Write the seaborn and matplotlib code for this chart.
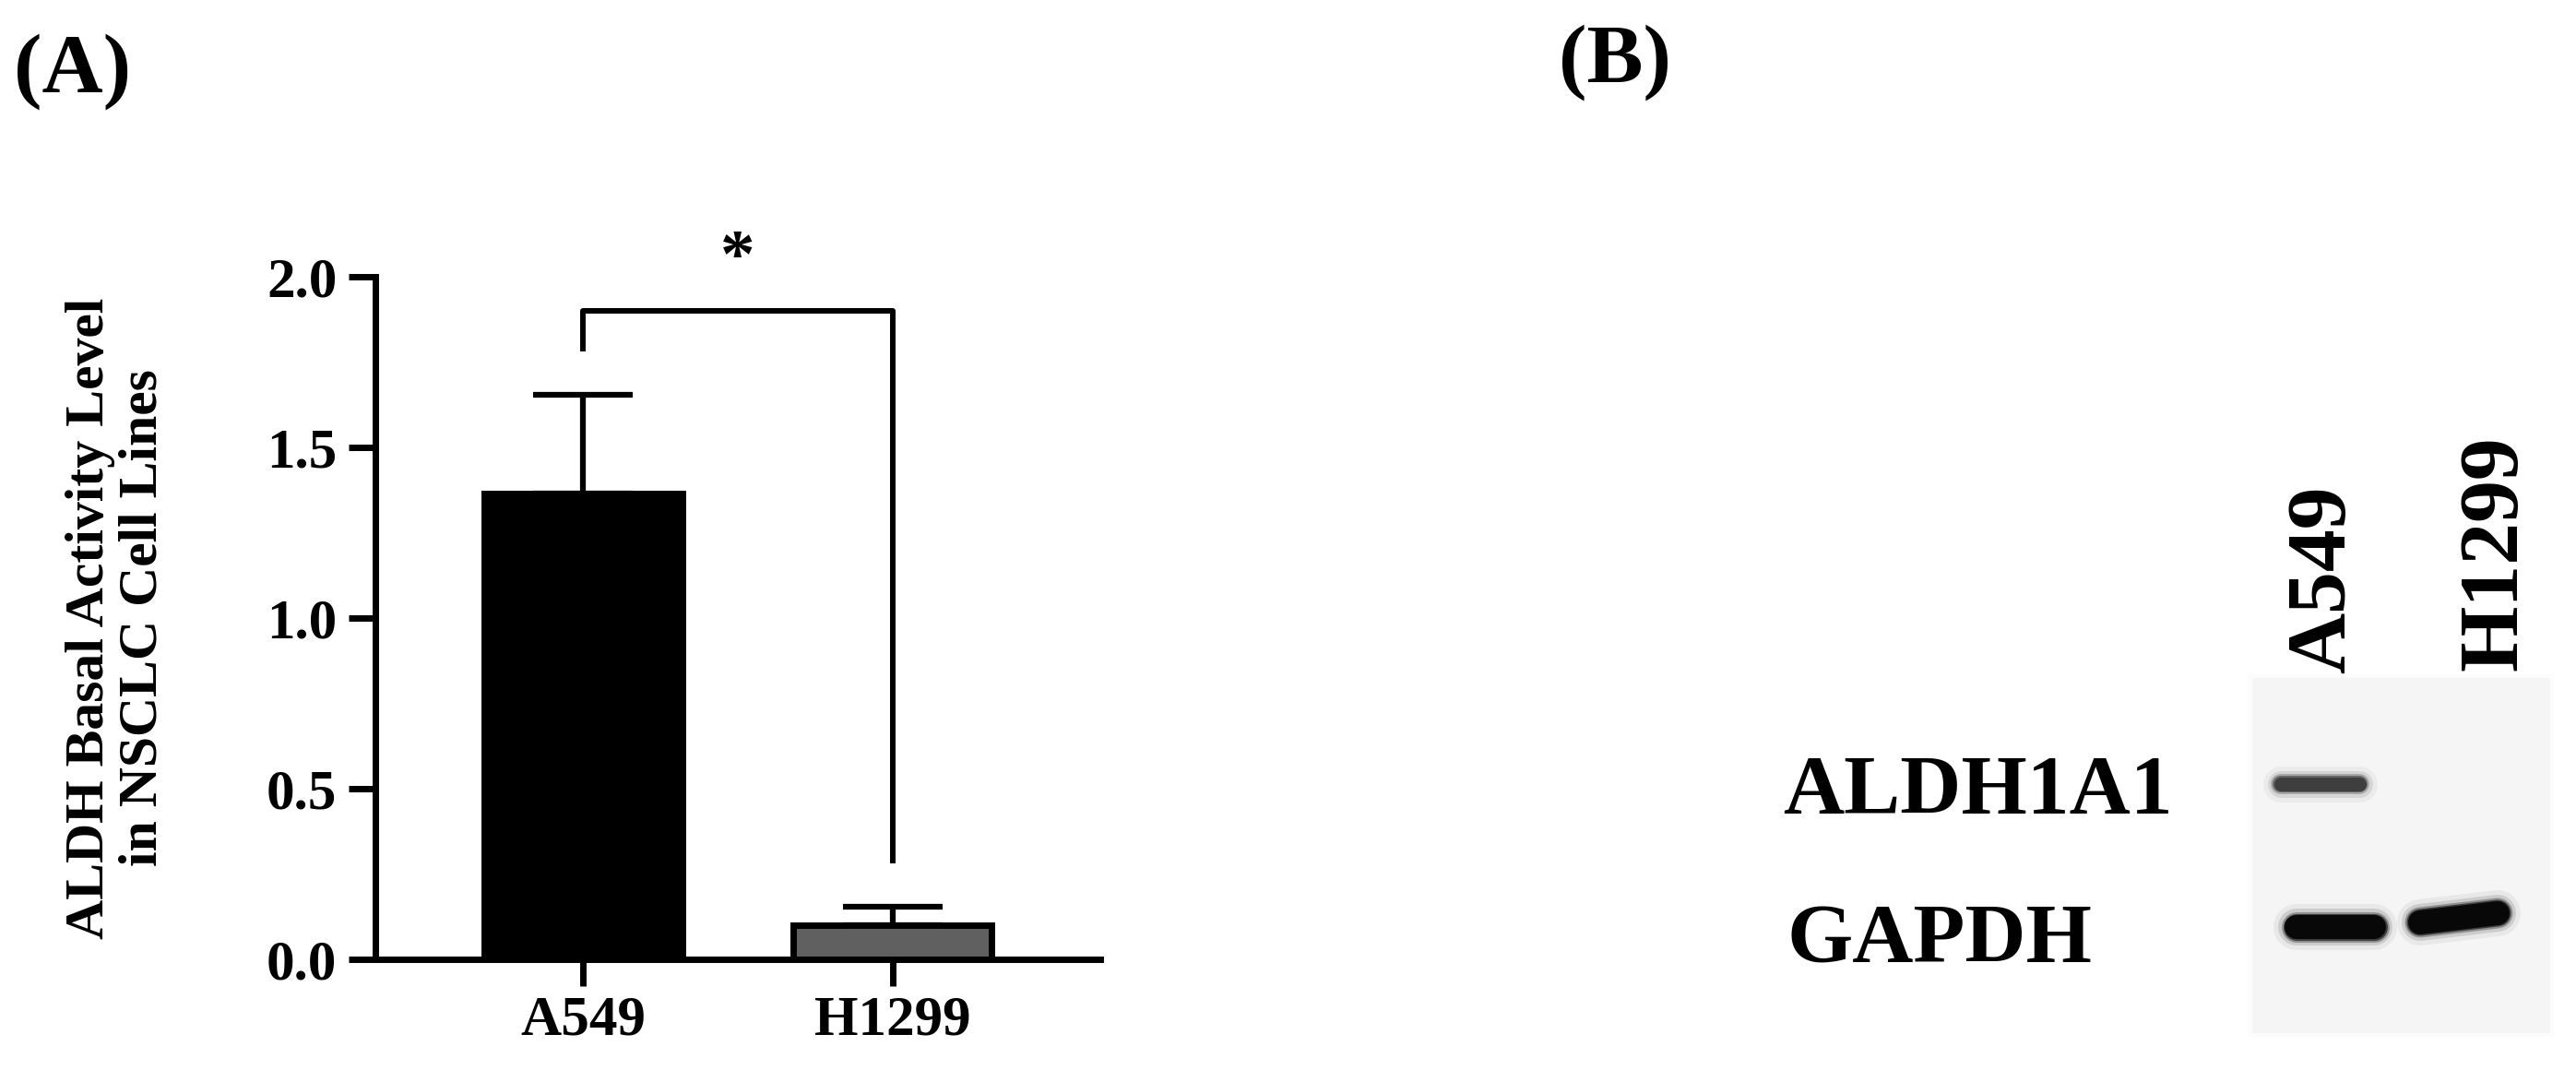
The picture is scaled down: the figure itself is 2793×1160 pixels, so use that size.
import numpy as np
import pandas as pd
import matplotlib
matplotlib.use('Agg')
import matplotlib.pyplot as plt
import seaborn as sns

# panel A data
cells = ['A549', 'H1299']
aldh_mean = [1.365, 0.10]
aldh_sem = [0.29, 0.054]
bar_colors = ['#000000', '#606060']
yticks = [0.0, 0.5, 1.0, 1.5, 2.0]
ytick_labels = ['0.0', '0.5', '1.0', '1.5', '2.0']
bracket_low = [1.78, 0.28]
bracket_top = 1.90
star_y = 2.05

# panel B (western blot) data
lanes = ['A549', 'H1299']
proteins = ['ALDH1A1', 'GAPDH']
aldh1a1_x = [75, 226]
aldh1a1_y = [117, 117]
aldh1a1_int = [0.78, 0.0]
gapdh_x = [92, 226]
gapdh_y = [272, 262]
gapdh_int = [1.0, 1.0]
gapdh_tilt = [0, -10]

sns.set_style('ticks')
plt.rcParams['font.family'] = ['Liberation Serif', 'DejaVu Serif']
plt.rcParams['font.weight'] = 'bold'
for k in ['text.color', 'axes.labelcolor', 'xtick.color', 'ytick.color', 'axes.edgecolor']:
    plt.rcParams[k] = 'black'

W, H = 2793, 1160
fig = plt.figure(figsize=(W / 100, H / 100), dpi=100)

def fx(px):
    return px / W

def fy(py):
    return 1 - py / H

# ---- panel A: bar chart
ax = fig.add_axes([fx(407), fy(1040), fx(1193) - fx(407), fy(300) - fy(1040)])
df = pd.DataFrame({'cell': cells, 'value': aldh_mean})
sns.barplot(data=df, x='cell', y='value', hue='cell', palette=bar_colors,
            legend=False, errorbar=None, width=0.64, edgecolor='black',
            linewidth=5, ax=ax, zorder=2)
ax.errorbar(x=[0, 1], y=aldh_mean, yerr=[[0, 0], aldh_sem], fmt='none',
            ecolor='black', elinewidth=4.5, capsize=39, capthick=4.5, zorder=1)

ax.set_xlim(-0.67, 1.67)
ax.set_ylim(0, 2.0)
ax.set_yticks(yticks)
ax.set_yticklabels(ytick_labels)
ax.set_xlabel('')
ax.set_ylabel('ALDH Basal Activity Level\nin NSCLC Cell Lines', fontsize=43,
              fontweight='bold', linespacing=1.1)
ax.yaxis.set_label_coords(-0.285, 0.5)
sns.despine(ax=ax)
for s in ['left', 'bottom']:
    ax.spines[s].set_linewidth(5)
ax.tick_params(axis='both', length=21, width=5, labelsize=44, color='black')
ax.tick_params(axis='y', pad=9)
ax.tick_params(axis='x', pad=7)
for lab in ax.get_xticklabels() + ax.get_yticklabels():
    lab.set_fontweight('bold')

# significance bracket
ax.plot([0, 0, 1, 1], [bracket_low[0], bracket_top, bracket_top, bracket_low[1]],
        color='black', lw=4.3, clip_on=False, solid_capstyle='butt')
ax.text(0.5, star_y, '*', ha='center', va='center', fontsize=54,
        fontweight='bold', clip_on=False)

# ---- panel B: western blot
bx = fig.add_axes([fx(2440), fy(1122), fx(2767) - fx(2440), fy(733) - fy(1122)])
bx.set_facecolor('#f5f5f5')
bx.set_xlim(0, 327)
bx.set_ylim(389, 0)
bx.set_xticks([])
bx.set_yticks([])
for s in bx.spines.values():
    s.set_color('#fcfcfc')
    s.set_linewidth(3)

def draw_band(cx, cy, length, thick, inten, tilt=0):
    if inten <= 0:
        return
    g = 1 - inten * 0.97
    col = (g, g, g)
    half = (length - thick) / 2
    xs = [cx - half, cx + half]
    ys = [cy - tilt / 2, cy + tilt / 2]
    for extra, a in [(24, 0.05), (14, 0.12), (7, 0.3), (3, 0.6)]:
        bx.plot(xs, ys, color=col, lw=(thick + extra) / 1.389, alpha=a,
                solid_capstyle='round')
    bx.plot(xs, ys, color=col, lw=thick / 1.389, solid_capstyle='round')

for i in range(len(lanes)):
    draw_band(aldh1a1_x[i], aldh1a1_y[i], 100, 15, aldh1a1_int[i])
    draw_band(gapdh_x[i], gapdh_y[i], 110, 26, gapdh_int[i], gapdh_tilt[i])

# lane labels
fig.text(fx(2542), fy(730), lanes[0], rotation=90, rotation_mode='anchor',
         ha='left', va='baseline', fontsize=66, fontweight='bold')
fig.text(fx(2728), fy(727), lanes[1], rotation=90, rotation_mode='anchor',
         ha='left', va='baseline', fontsize=66, fontweight='bold')

# protein labels
fig.text(fx(1933), fy(882), proteins[0], ha='left', va='baseline',
         fontsize=66, fontweight='bold')
fig.text(fx(1938), fy(1043), proteins[1], ha='left', va='baseline',
         fontsize=66, fontweight='bold')

# panel letters
fig.text(fx(15), fy(100), '(A)', ha='left', va='baseline', fontsize=66,
         fontweight='bold')
fig.text(fx(1690), fy(90), '(B)', ha='left', va='baseline', fontsize=66,
         fontweight='bold')

fig.savefig('out.png', dpi=100, facecolor='white')
